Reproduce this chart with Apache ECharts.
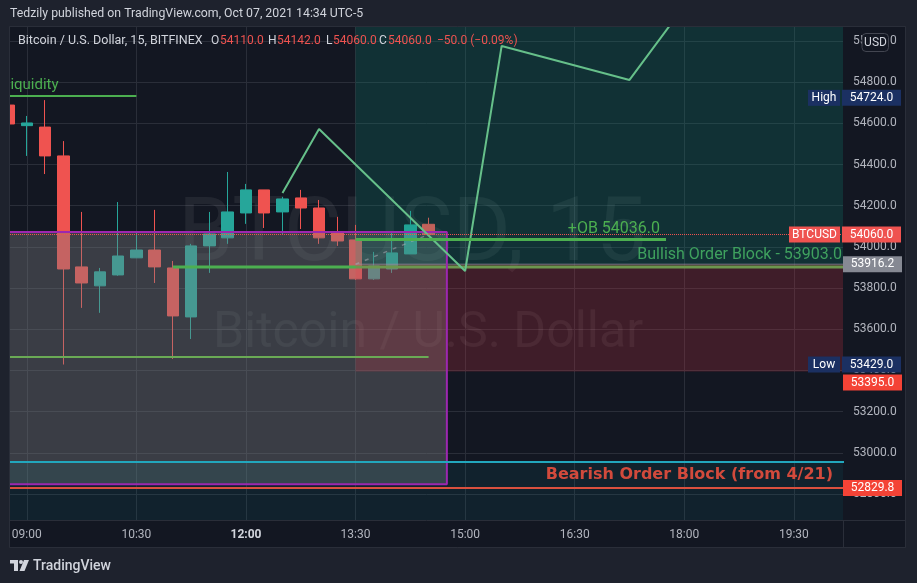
<!DOCTYPE html>
<html>
<head>
<meta charset="utf-8">
<title>BTCUSD 15</title>
<script src="https://cdn.jsdelivr.net/npm/echarts@6/dist/echarts.min.js"></script>
<style>
  html, body { margin: 0; padding: 0; background: #1e222d; }
  #main { width: 917px; height: 583px; }
</style>
</head>
<body>
<div id="main"></div>
<script>
// 15 min candles, BITFINEX BTCUSD, Oct 07 2021
var times  = ['08:45','09:00','09:15','09:30','09:45','10:00','10:15','10:30','10:45','11:00','11:15','11:30',
              '11:45','12:00','12:15','12:30','12:45','13:00','13:15','13:30','13:45','14:00','14:15','14:30'];
var opens  = [54689,54589,54582,54442,53903,53811,53864,53947,53985,53898,53660,54005,
              54044,54165,54277,54170,54238,54189,54068,54034,53845,53893,53966,54110];
var closes = [54597,54602,54442,53893,53825,53879,53956,53985,53903,53665,54005,54063,
              54170,54277,54165,54233,54189,54044,54029,53845,53908,53971,54107,54060];
var lows   = [54590,54442,54354,53429,53704,53680,53860,53947,53825,53456,53553,53874,
              54015,54112,54092,54063,54087,54015,54005,53840,53840,53874,53966,54060];
var highs  = [54724,54636,54713,54514,54170,53898,54218,54068,54180,53932,54015,54170,
              54364,54306,54277,54243,54277,54228,54146,54107,53976,54068,54175,54142];

// axis ticks
var timeTicks  = ['09:00','10:30','12:00','13:30','15:00','16:30','18:00','19:30'];
var priceTicks = [52800,53000,53200,53400,53600,53800,54000,54200,54400,54600,54800,55000];

// drawn projection path
var projTimes  = ['12:30','13:00','15:00','15:30','17:15','18:00'];
var projPrices = [54262,54573,53883,54976,54811,55170];

// levels from the drawings
var liquidity = 54733;
var rangeLow = 53466;
var bullishOB = 53903;
var plusOB = 54036;
var boxTop = 54073, boxBottom = 52847;
var entry = 53916.2, stop = 53395;
var bearTop = 52956, bearLine = 52829.8;
var lastPrice = 54060, dayHigh = 54724, dayLow = 53429;
var farLeft = '08:00', farRight = '21:00';
var boxEnd = '14:45', posStart = '13:30', plusOBEnd = '17:45', rangeEnd = '14:30', bullStart = '11:00';

function bar(t) {
    var p = t.split(':');
    return (Number(p[0]) * 60 + Number(p[1]) - 540) / 15;
}
function hhmm(v) {
    var m = Math.round(540 + v * 15);
    return ('0' + Math.floor(m / 60)).slice(-2) + ':' + ('0' + (m % 60)).slice(-2);
}
function pts(ts, ps) {
    return ts.map(function (t, i) { return [bar(t), ps[i]]; });
}

var candles = times.map(function (t, i) {
    return [bar(t), opens[i], closes[i], lows[i], highs[i]];
});

var FONT = 'Roboto';
var HIDE = { color: 'rgba(0,0,0,0)', width: 0 };
function box(bg, w) {
    return { backgroundColor: bg, color: '#ffffff', fontSize: 12, fontFamily: FONT, width: w, height: 16, lineHeight: 16, padding: [0, 5], align: 'center' };
}
var tagRich = {
    blue:  box('#1b3062', 22),
    red:   box('#ef5350', 41),
    gap:   { width: 2, height: 16 },
    vblue: box('#1b3062', 49),
    vred:  box('#ef5350', 49),
    vred2: box('#f44336', 49),
    vgrey: box('#868993', 49)
};
function tagLine(price, fmt, dist, pad) {
    return {
        yAxis: price,
        lineStyle: HIDE,
        label: { show: true, position: 'end', distance: dist, formatter: fmt, rich: tagRich, padding: pad || 0 }
    };
}
function lineSeries(name, data, color, width, z, extra) {
    var s = {
        name: name, type: 'line', data: data, z: z, silent: true,
        symbol: 'none', animation: false, clip: true,
        lineStyle: { color: color, width: width }
    };
    for (var k in extra) s[k] = extra[k];
    return s;
}
function txt(x, y, s, font, fill, extra) {
    var st = { text: s, font: font, fill: fill, textVerticalAlign: 'middle' };
    for (var k in extra) st[k] = extra[k];
    return { type: 'text', z: 101, silent: true, x: x, y: y, style: st };
}

var myChart = echarts.init(document.getElementById('main'));

var legendFont = '12px Roboto';
myChart.setOption({
    backgroundColor: '#131722',
    animation: false,
    grid: { left: 10, top: 27, right: 74, bottom: 63 },
    xAxis: {
        type: 'value',
        min: -0.92, max: 44.69,
        axisLine: { show: true, lineStyle: { color: '#2a2e39' } },
        axisTick: { show: false, customValues: timeTicks.map(bar) },
        splitLine: { show: true, lineStyle: { color: '#2a2e39', width: 1 } },
        axisLabel: {
            customValues: timeTicks.map(bar),
            color: '#b2b5be', fontSize: 12, fontFamily: FONT, margin: 9,
            formatter: function (v) {
                var s = hhmm(v);
                return s === '12:00' ? '{b|' + s + '}' : s;
            },
            rich: { b: { color: '#d1d4dc', fontSize: 12, fontFamily: FONT, fontWeight: 'bold' } }
        }
    },
    yAxis: {
        type: 'value', position: 'right', scale: true,
        min: 52674, max: 55068,
        axisLine: { show: true, lineStyle: { color: '#2a2e39' } },
        axisTick: { show: false, customValues: priceTicks },
        splitLine: { show: true, lineStyle: { color: '#2a2e39', width: 1 } },
        axisLabel: {
            customValues: priceTicks,
            color: '#b2b5be', fontSize: 12, fontFamily: FONT, margin: 10,
            formatter: function (v) { return v.toFixed(1); }
        }
    },
    graphic: [
        // watermark
        { type: 'text', z: 1, silent: true, x: 412, y: 238,
          style: { text: 'BTCUSD, 15', font: '89px Roboto', fill: 'rgba(255,255,255,0.065)', textAlign: 'center', textVerticalAlign: 'middle' } },
        { type: 'text', z: 1, silent: true, x: 428, y: 334,
          style: { text: 'Bitcoin / U.S. Dollar', font: '50px Roboto', fill: 'rgba(255,255,255,0.065)', textAlign: 'center', textVerticalAlign: 'middle' } },
        // outer frame
        { type: 'rect', z: 100, silent: true, shape: { x: 0, y: 0, width: 917, height: 27 }, style: { fill: '#1e222d' } },
        { type: 'rect', z: 100, silent: true, shape: { x: 0, y: 0, width: 10, height: 583 }, style: { fill: '#1e222d' } },
        { type: 'rect', z: 100, silent: true, shape: { x: 906, y: 0, width: 11, height: 583 }, style: { fill: '#1e222d' } },
        { type: 'rect', z: 100, silent: true, shape: { x: 0, y: 547, width: 917, height: 36 }, style: { fill: '#1e222d' } },
        { type: 'rect', z: 100, silent: true, shape: { x: 9.5, y: 26.5, width: 896, height: 521 }, style: { fill: 'none', stroke: '#2a2e39', lineWidth: 1 } },
        { type: 'line', z: 100, silent: true, shape: { x1: 843, y1: 520.5, x2: 906, y2: 520.5 }, style: { stroke: '#2a2e39', lineWidth: 1 } },
        { type: 'line', z: 100, silent: true, shape: { x1: 843.5, y1: 520, x2: 843.5, y2: 547 }, style: { stroke: '#2a2e39', lineWidth: 1 } },
        // header and legend
        txt(10, 14, 'Tedzily published on TradingView.com, Oct 07, 2021 14:34 UTC-5', '12.3px Roboto', '#d1d4dc'),
        txt(18, 41, 'Bitcoin / U.S. Dollar, 15, BITFINEX', '12.5px Roboto', '#d1d4dc'),
        txt(211, 41, 'O', legendFont, '#d1d4dc'),
        txt(220, 41, opens[opens.length - 1].toFixed(1), legendFont, '#ef5350'),
        txt(268, 41, 'H', legendFont, '#d1d4dc'),
        txt(277, 41, highs[highs.length - 1].toFixed(1), legendFont, '#ef5350'),
        txt(326, 41, 'L', legendFont, '#d1d4dc'),
        txt(333, 41, lows[lows.length - 1].toFixed(1), legendFont, '#ef5350'),
        txt(379, 41, 'C', legendFont, '#d1d4dc'),
        txt(388, 41, closes[closes.length - 1].toFixed(1), legendFont, '#ef5350'),
        txt(437, 41, '\u2212' + (opens[opens.length - 1] - closes[closes.length - 1]).toFixed(1) + ' (\u22120.09%)', legendFont, '#ef5350'),
        // USD box
        { type: 'rect', z: 101, silent: true, shape: { x: 862, y: 33.5, width: 26.5, height: 18, r: 4 }, style: { fill: '#131722', stroke: '#434651', lineWidth: 1 } },
        txt(875.5, 42.5, 'USD', '12px Roboto', '#d1d4dc', { textAlign: 'center' }),
        // TradingView logo
        { type: 'rect', z: 101, silent: true, shape: { x: 10, y: 560, width: 8, height: 3.5 }, style: { fill: '#d1d4dc' } },
        { type: 'rect', z: 101, silent: true, shape: { x: 14, y: 560, width: 4, height: 11 }, style: { fill: '#d1d4dc' } },
        { type: 'circle', z: 101, silent: true, shape: { cx: 21, cy: 562, r: 2 }, style: { fill: '#d1d4dc' } },
        { type: 'polygon', z: 101, silent: true, shape: { points: [[24, 560], [29, 560], [24.5, 571], [19.5, 571]] }, style: { fill: '#d1d4dc' } },
        txt(33, 566, 'TradingView', '500 14px Roboto', '#d1d4dc')
    ],
    series: [
        {
            name: 'BTCUSD', type: 'candlestick', z: 2, silent: true, clip: true,
            data: candles,
            encode: { x: 0, y: [1, 2, 3, 4] },
            barWidth: 12,
            itemStyle: { color: '#26a69a', color0: '#ef5350', borderColor: '#26a69a', borderColor0: '#ef5350', borderWidth: 1 }
        },
        // grey range box + bearish order block zone
        lineSeries('box', [], '#000', 0, 3, {
            markArea: {
                silent: true, z: 3,
                data: [
                    [{ coord: [bar(farLeft), boxBottom], itemStyle: { color: 'rgba(125,127,130,0.37)' } }, { coord: [bar(boxEnd), boxTop] }],
                    [{ coord: [bar(farLeft), 52400], itemStyle: { color: 'rgba(0,150,170,0.09)' } }, { coord: [bar(farRight), bearTop] }]
                ]
            }
        }),
        lineSeries('bullishOB', pts([bullStart, farRight], [bullishOB, bullishOB]), '#4caf50', 3, 4),
        // long position tool
        lineSeries('position', pts([posStart, farRight], [entry, entry]), 'rgba(140,143,155,0.8)', 1, 6, {
            markArea: {
                silent: true, z: 5,
                data: [
                    [{ coord: [bar(posStart), entry], itemStyle: { color: 'rgba(8,153,129,0.2)' } }, { coord: [bar(farRight), 55600] }],
                    [{ coord: [bar(posStart), stop], itemStyle: { color: 'rgba(242,54,69,0.2)' } }, { coord: [bar(farRight), entry] }]
                ]
            }
        }),
        lineSeries('posPath', pts([posStart, rangeEnd], [entry, lastPrice]), 'rgba(170,172,180,0.55)', 1, 6, {
            lineStyle: { color: 'rgba(170,172,180,0.55)', width: 1.5, type: [4, 6] }
        }),
        lineSeries('liquidity', pts([farLeft, '10:30'], [liquidity, liquidity]), '#4caf50', 2, 6, {
            markPoint: {
                symbol: 'circle', symbolSize: 1, silent: true, z: 6,
                itemStyle: { color: 'rgba(0,0,0,0)' },
                data: [{ coord: [bar('09:00'), liquidity],
                         label: { show: true, formatter: 'Liquidity', position: [-24, -3], align: 'left', verticalAlign: 'bottom',
                                  color: '#4caf50', fontSize: 15, fontFamily: FONT } }]
            }
        }),
        lineSeries('rangeLow', pts([farLeft, rangeEnd], [rangeLow, rangeLow]), '#6aaa55', 2, 6),
        lineSeries('boxBorder', pts([farLeft, boxEnd, boxEnd, farLeft], [boxTop, boxTop, boxBottom, boxBottom]), '#9c27b0', 2, 6),
        lineSeries('bearTop', pts([farLeft, farRight], [bearTop, bearTop]), '#22a7bd', 2, 6),
        lineSeries('bearLine', pts([farLeft, farRight], [bearLine, bearLine]), '#d9503e', 2, 6),
        lineSeries('projection', pts(projTimes, projPrices), '#66c08a', 2, 7),
        // tags, price line and drawing labels
        lineSeries('tags', [], '#000', 0, 10, {
            markLine: {
                silent: true, symbol: ['none', 'none'], animation: false, z: 10,
                data: [
                    [{ coord: [bar(posStart), plusOB], lineStyle: { color: '#4caf50', width: 3, type: 'solid' },
                       label: { show: true, position: 'insideEndTop', distance: [6, 3], formatter: '+OB ' + plusOB.toFixed(1),
                                color: '#4caf50', fontSize: 16, fontFamily: FONT } },
                     { coord: [bar(plusOBEnd), plusOB] }],
                    { yAxis: bullishOB, lineStyle: HIDE,
                      label: { show: true, position: 'insideEndTop', distance: [1, 4], formatter: 'Bullish Order Block - ' + bullishOB.toFixed(1),
                               color: '#3fa15e', fontSize: 16, fontFamily: FONT } },
                    { yAxis: bearLine, lineStyle: HIDE,
                      label: { show: true, position: 'insideEndTop', distance: [10, 5], formatter: 'Bearish Order Block (from 4/21)',
                               color: '#d24a3c', fontSize: 16, fontWeight: 'bold', fontFamily: 'DejaVu Sans' } },
                    { yAxis: lastPrice, lineStyle: { color: '#ef5350', type: 'dotted', width: 1 },
                      label: { show: true, position: 'end', distance: -54, formatter: '{red|BTCUSD}{gap|}{vred|' + lastPrice.toFixed(1) + '}', rich: tagRich } },
                    tagLine(dayHigh, '{blue|High}{gap|}{vblue|' + dayHigh.toFixed(1) + '}', -35),
                    tagLine(dayLow, '{blue|Low}{gap|}{vblue|' + dayLow.toFixed(1) + '}', -35),
                    tagLine(entry, '{vgrey|' + entry.toFixed(1) + '}', 0),
                    tagLine(stop, '{vred2|' + stop.toFixed(1) + '}', 0, [22, 0, 0, 0]),
                    tagLine(bearLine, '{vred2|' + bearLine.toFixed(1) + '}', 0)
                ]
            }
        })
    ]
});
</script>
</body>
</html>
